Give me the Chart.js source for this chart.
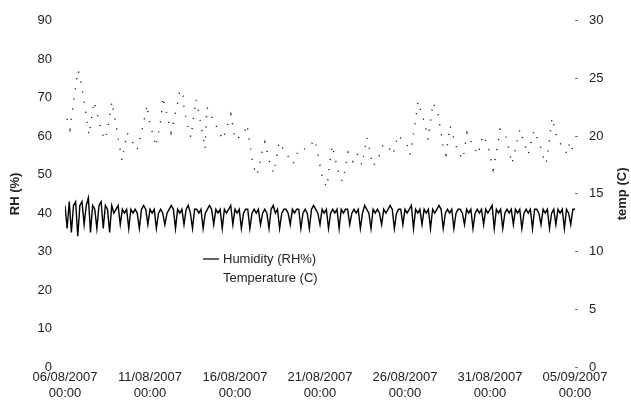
<!DOCTYPE html>
<html>
<head>
<meta charset="utf-8">
<script src="https://cdn.jsdelivr.net/npm/chart.js@4.4.1/dist/chart.umd.min.js"></script>
<style>
  html, body { margin: 0; padding: 0; background: #fff; }
  #wrap { width: 631px; height: 409px; }
</style>
</head>
<body>
<div id="wrap"><canvas id="c" width="631" height="409"></canvas></div>
<script>
// ── DATA ─────────────────────────────────────────
// x axis: days from 06/08/2007 00:00
const xTickLabels = [
  ["06/08/2007", "00:00"], ["11/08/2007", "00:00"], ["16/08/2007", "00:00"],
  ["21/08/2007", "00:00"], ["26/08/2007", "00:00"], ["31/08/2007", "00:00"],
  ["05/09/2007", "00:00"],
];
const rhTicks   = [0, 10, 20, 30, 40, 50, 60, 70, 80, 90];
const tempTicks = [0, 5, 10, 15, 20, 25, 30];

// humidity, one reading every 3 hours (8 per day)
const humStepHours = 3;
const humidity = [
  42, 36, 43, 35, 42, 43, 34, 42,
  43, 37, 42, 44, 35, 42, 41, 36,
  42, 43, 36, 42, 41, 35, 42, 40,
  41, 42, 37, 41, 40, 41, 36, 41,
  40, 41, 40, 36, 41, 42, 41, 37,
  41, 40, 41, 36, 40, 41, 40, 37,
  40, 41, 42, 41, 36, 41, 40, 41,
  37, 41, 42, 40, 36, 41, 41, 40,
  41, 36, 40, 41, 42, 41, 37, 41,
  40, 41, 36, 41, 40, 41, 42, 37,
  41, 40, 41, 36, 40, 41, 41, 36,
  40, 41, 40, 41, 37, 40, 41, 40,
  36, 41, 42, 40, 41, 36, 40, 41,
  41, 40, 37, 41, 40, 41, 41, 36,
  40, 41, 40, 36, 41, 42, 41, 40,
  37, 41, 40, 41, 36, 40, 41, 40,
  41, 36, 41, 40, 41, 41, 37, 40,
  41, 40, 41, 36, 40, 42, 41, 40,
  36, 41, 40, 41, 40, 37, 41, 40,
  41, 42, 41, 36, 40, 41, 41, 37,
  41, 40, 41, 42, 36, 41, 40, 41,
  37, 41, 40, 41, 36, 41, 40, 41,
  42, 41, 36, 40, 41, 40, 41, 36,
  40, 41, 41, 40, 37, 41, 40, 41,
  36, 40, 41, 40, 41, 37, 41, 40,
  41, 42, 36, 41, 40, 41, 36, 40,
  41, 40, 41, 37, 41, 40, 41, 36,
  40, 41, 40, 41, 36, 41, 41, 40,
  37, 41, 40, 41, 36, 40, 41, 37,
  41, 40, 41, 36, 41, 40, 37, 41,
  41,
];

// temperature readings (day, °C)
const tempDay = [
  0.12, 0.29, 0.76, 0.88, 1.18, 1.29, 1.41, 1.71, 2.18, 2.35,
  2.53, 2.76, 2.94, 3.35, 3.65, 4.24, 4.59, 4.82, 4.94, 5.35,
  5.65, 5.76, 6.24, 6.59, 6.76, 6.94, 7.00, 7.24, 7.41, 7.71,
  7.88, 8.24, 8.35, 9.29, 9.76, 10.0, 10.47, 10.71, 11.06, 11.29,
  11.59, 11.76, 12.06, 12.29, 12.59, 13.06, 13.41, 13.76, 14.24, 14.71,
  15.18, 15.41, 15.71, 16.18, 16.35, 16.65, 16.94, 17.18, 17.47, 17.76,
  18.12, 18.41, 18.71, 19.0, 19.29, 19.59, 19.82, 20.18, 20.29, 20.59,
  20.76, 21.0, 21.18, 21.35, 21.65, 21.94, 22.24, 22.41, 22.65, 23.12,
  23.41, 23.65, 23.82, 24.29, 24.59, 24.88, 25.18, 25.47, 25.59, 25.94,
  26.29, 26.76, 26.94, 27.24, 27.59, 27.94, 28.24, 28.35, 28.65, 28.82,
  28.94, 29.24, 29.53, 29.71, 30.0,
];
const tempVal = [
  21.5, 20.6, 25.7, 25.2, 22.5, 21.2, 20.1, 23.0, 20.3, 19.7,
  20.8, 23.0, 21.5, 17.9, 20.3, 18.8, 20.9, 22.7, 21.5, 19.1,
  21.5, 23.4, 20.3, 22.6, 24.0, 23.5, 22.5, 20.7, 19.9, 23.2,
  22.0, 18.9, 22.5, 19.7, 21.9, 19.7, 20.1, 21.0, 17.5, 16.6,
  18.6, 19.5, 17.6, 16.8, 19.5, 18.4, 17.6, 18.9, 18.9, 19.7,
  16.1, 15.6, 19.2, 16.3, 16.1, 18.6, 17.8, 18.5, 17.5, 19.9,
  17.4, 18.0, 19.3, 19.1, 18.4, 20.1, 19.7, 19.1, 18.4, 21.0,
  23.0, 21.9, 21.0, 19.7, 22.9, 22.0, 19.1, 18.4, 20.9, 18.6,
  18.0, 20.3, 19.7, 18.4, 20.1, 19.2, 17.1, 19.3, 20.6, 20.0,
  17.6, 20.6, 19.7, 18.4, 20.5, 19.3, 17.6, 17.9, 21.6, 20.6,
  19.9, 19.1, 18.5, 19.5, 18.2,
];

// ── HELPERS ──────────────────────────────────────
const TEXT = "#222";
const FONT = "'Liberation Sans', Arial, sans-serif";

const humPoints  = humidity.map((v, i) => ({ x: i * humStepHours / 24, y: v }));
const tempPoints = tempDay.map((d, i) => ({ x: d, y: tempVal[i] }));

// legend inside the plot + right title reading bottom-to-top
const extras = {
  id: "extras",
  afterDraw(chart) {
    const ctx = chart.ctx;
    const ds  = chart.data.datasets;
    ctx.save();
    ctx.font = "13px " + FONT;
    ctx.fillStyle = TEXT;
    ctx.textBaseline = "middle";
    ctx.textAlign = "left";
    // humidity entry (temperature symbol is invisible in the original)
    ctx.strokeStyle = "#000";
    ctx.lineWidth = 1.2;
    ctx.beginPath();
    ctx.moveTo(203, 259);
    ctx.lineTo(219, 259);
    ctx.stroke();
    ctx.fillText(ds[0].label, 223, 259);
    ctx.fillText(ds[1].label, 223, 278);

    // right axis title
    ctx.font = "bold 13px " + FONT;
    ctx.textAlign = "center";
    const a = chart.chartArea;
    ctx.translate(622, (a.top + a.bottom) / 2);
    ctx.rotate(-Math.PI / 2);
    ctx.fillText("temp (C)", 0, 0);
    ctx.restore();
  },
};

// ── CHART ────────────────────────────────────────
new Chart(document.getElementById("c"), {
  type: "line",
  data: {
    datasets: [
      {
        label: "Humidity (RH%)",
        data: humPoints,
        yAxisID: "y",
        borderColor: "#000",
        borderWidth: 1.4,
        pointRadius: 0,
        tension: 0,
      },
      {
        label: "Temperature (C)",
        data: tempPoints,
        yAxisID: "y1",
        borderColor: "#222",
        borderWidth: 1.4,
        borderDash: [1.2, 9],
        pointRadius: 0,
        tension: 0,
      },
    ],
  },
  options: {
    responsive: false,
    devicePixelRatio: 1,
    animation: false,
    layout: { padding: { top: 16, left: 0, right: 0, bottom: 0 } },
    plugins: {
      legend:  { display: false },
      tooltip: { enabled: false },
    },
    scales: {
      x: {
        type: "linear",
        min: 0,
        max: 30,
        afterFit: s => { s.height = 42; },
        afterBuildTicks: s => { s.ticks = xTickLabels.map((_, i) => ({ value: i * 5 })); },
        grid:   { display: false, drawTicks: false },
        border: { display: false },
        ticks: {
          padding: 3,
          maxRotation: 0,
          autoSkip: false,
          color: TEXT,
          font: { size: 13, family: FONT },
          callback: v => xTickLabels[Math.round(v / 5)],
        },
      },
      y: {
        position: "left",
        min: 0,
        max: 90,
        afterFit: s => { s.width = 65; },
        afterBuildTicks: s => { s.ticks = rhTicks.map(v => ({ value: v })); },
        grid:   { display: false, drawTicks: false },
        border: { display: false },
        ticks:  { padding: 13, color: TEXT, font: { size: 13, family: FONT } },
        title: {
          display: true,
          text: "RH (%)",
          color: TEXT,
          padding: { top: 8, bottom: 0 },
          font: { size: 13, weight: "bold", family: FONT },
        },
      },
      y1: {
        position: "right",
        min: 0,
        max: 30,
        afterFit: s => { s.width = 56; },
        afterBuildTicks: s => { s.ticks = tempTicks.map(v => ({ value: v })); },
        grid: {
          display: true,
          drawOnChartArea: false,
          drawTicks: true,
          tickLength: 3,
          color: "#777",
        },
        border: { display: false },
        ticks:  { padding: 11, color: TEXT, font: { size: 13, family: FONT } },
      },
    },
  },
  plugins: [extras],
});
</script>
</body>
</html>
